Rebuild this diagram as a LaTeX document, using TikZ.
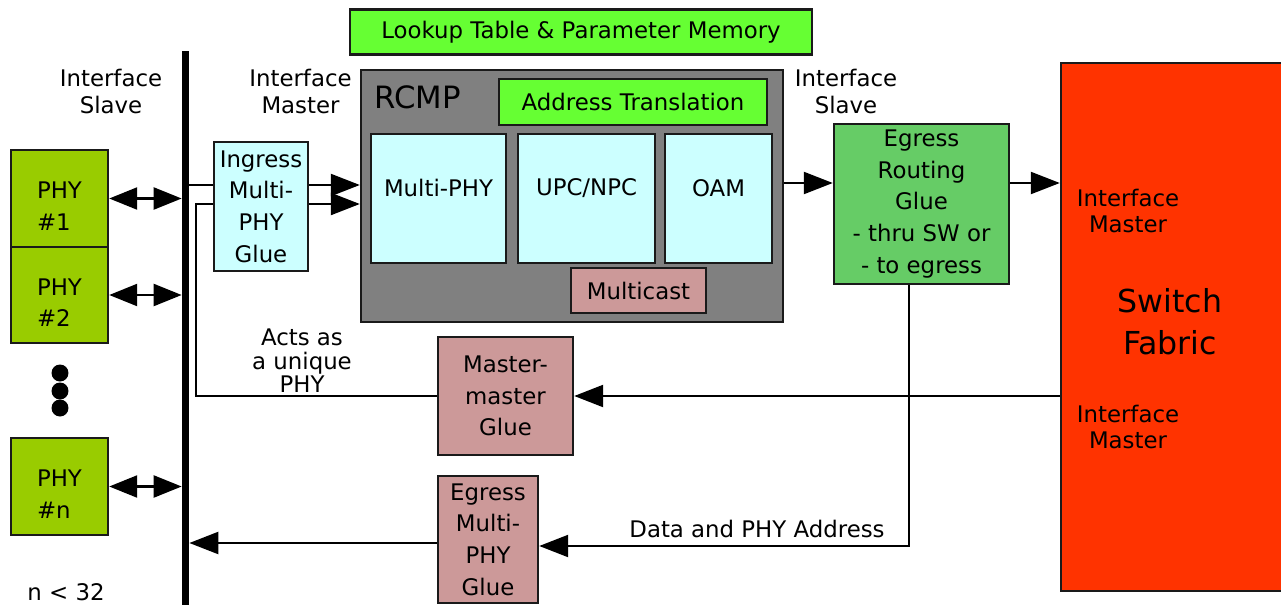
\documentclass[tikz,border=0pt]{standalone}
\usepackage{fontspec}
\setmainfont{DejaVu Sans}
\usepackage{tikz}
\usetikzlibrary{arrows.meta,positioning}
\definecolor{lookupgreen}{HTML}{66FF33}
\definecolor{rcmpgray}{HTML}{808080}
\definecolor{blockcyan}{HTML}{CCFFFF}
\definecolor{gluepink}{HTML}{CC9999}
\definecolor{phygreen}{HTML}{99CC00}
\definecolor{routegreen}{HTML}{66CC66}
\definecolor{fabricred}{HTML}{FF3300}
\definecolor{edgedark}{HTML}{1A1A1A}
\newcommand{\phytext}[1]{\raisebox{-0.3cm}[0pt][0pt]{\begin{tabular}{@{}l@{}}PHY\\\##1\end{tabular}}}
\tikzset{
  blk/.style={draw=edgedark, line width=1.4pt, inner sep=0pt, align=center, font=\fontsize{13}{18}\selectfont},
  tag/.style={align=center, inner sep=0pt, font=\fontsize{13}{15.3}\selectfont},
  wire/.style={line width=1.3pt},
  arr/.style={wire, -{Triangle[length=0.58cm,width=0.44cm]}},
  dblarr/.style={wire, {Triangle[length=0.56cm,width=0.44cm]}-{Triangle[length=0.56cm,width=0.44cm]}},
  dot/.style={circle, fill=black, inner sep=0pt, minimum size=0.34cm}
}

\begin{document}
\begin{tikzpicture}[x=0.02cm, y=-0.02cm]
    \useasboundingbox (0,0) rectangle (1281,605);
    \node[blk, fill=lookupgreen, minimum width=9.24cm, minimum height=0.9cm] (lookup) at (581,32) {Lookup Table \& Parameter Memory};
    \node[blk, fill=rcmpgray, minimum width=8.44cm, minimum height=5.04cm] (rcmp) at (572,196) {};
    \node[anchor=base west, inner sep=0pt, font=\fontsize{17.5}{20}\selectfont] (rcmplbl) at (374,108) {RCMP};
    \node[blk, fill=lookupgreen, minimum width=5.36cm, minimum height=0.92cm] (addr) at (633,102) {Address Translation};
    \node[blk, fill=blockcyan, minimum width=2.7cm, minimum height=2.58cm] (mphy) at (438.5,198.5) {};
    \node[blk, fill=blockcyan, minimum width=2.74cm, minimum height=2.58cm] (upc) at (586.5,198.5) {};
    \node[blk, fill=blockcyan, minimum width=2.14cm, minimum height=2.58cm] (oam) at (718.5,198.5) {};
    \node[tag] (mphylbl) at ([yshift=0.21cm]mphy.center) {Multi-PHY};
    \node[tag] (upclbl) at ([yshift=0.21cm]upc.center) {UPC/NPC};
    \node[tag] (oamlbl) at ([yshift=0.21cm]oam.center) {OAM};
    \node[blk, fill=gluepink, minimum width=2.7cm, minimum height=0.9cm] (mcast) at (638.5,290.5) {Multicast};

    \node[fill=black, inner sep=0pt, minimum width=0.14cm, minimum height=11.08cm] (bus) at (185.5,328) {};
    \node[blk, fill=phygreen, minimum width=1.94cm, minimum height=1.94cm] (phy1) at (59.5,198.5) {\phytext{1}};
    \node[blk, fill=phygreen, minimum width=1.94cm, minimum height=1.92cm] (phy2) at (59.5,295) {\phytext{2}};
    \node[blk, fill=phygreen, minimum width=1.94cm, minimum height=1.94cm] (phyn) at (59.5,486.5) {\phytext{n}};
    \foreach \y [count=\i] in {373,391,408}
        \node[dot] (dot\i) at (60,\y) {};

    \node[blk, fill=blockcyan, minimum width=1.88cm, minimum height=2.58cm] (ingress) at (261,206.5) {Ingress\\Multi-\\PHY\\Glue};
    \node[blk, fill=routegreen, minimum width=3.5cm, minimum height=3.2cm] (egr) at (921.5,204) {Egress\\Routing\\Glue\\- thru SW or\\- to egress};
    \node[blk, fill=fabricred, minimum width=4.68cm, minimum height=10.56cm] (fabric) at (1178,327) {};
    \node[align=center, inner sep=0pt, font=\fontsize{18}{24}\selectfont] (fabriclbl) at (1170,322) {Switch\\Fabric};
    \node[blk, fill=gluepink, minimum width=2.7cm, minimum height=2.36cm] (mm) at (505.5,396) {Master-\\master\\Glue};
    \node[blk, fill=gluepink, minimum width=2.0cm, minimum height=2.54cm] (emg) at (488,539.5) {Egress\\Multi-\\PHY\\Glue};

    \node[tag] (slaveL) at (111,91.5) {Interface\\Slave};
    \node[tag] (masterL) at (300.5,91.5) {Interface\\Master};
    \node[tag] (slaveR) at (846,91.5) {Interface\\Slave};
    \node[tag] (fabmasterA) at (1128,211) {Interface\\Master};
    \node[tag] (fabmasterB) at (1128,427) {Interface\\Master};
    \node[tag, font=\fontsize{13}{13.3}\selectfont] (unique) at (302,361) {Acts as\\a unique\\PHY};
    \node[tag, anchor=base] (addrlbl) at (757,537) {Data and PHY Address};
    \node[tag, anchor=base] (limit) at (66,600) {n < 32};

    \coordinate (rowA) at (0,185);
    \coordinate (rowB) at (0,204);
    \coordinate (rowC) at (0,183);
    \coordinate (tap) at (196,204);
    \coordinate (drop) at (909,546);
    \coordinate (busin) at (0,543);

    \draw[dblarr] (phy1.east) -- (phy1.east -| bus.west);
    \draw[dblarr] (phy2.east) -- (phy2.east -| bus.west);
    \draw[dblarr] (phyn.east) -- (phyn.east -| bus.west);
    \draw[wire] (bus.east |- rowA) -- (ingress.west |- rowA);
    \draw[wire] (mm.west) -| (tap) -- (ingress.west |- tap);
    \draw[arr] (ingress.east |- rowA) -- (rcmp.west |- rowA);
    \draw[arr] (ingress.east |- rowB) -- (rcmp.west |- rowB);
    \draw[arr] (rcmp.east |- rowC) -- (egr.west |- rowC);
    \draw[arr] (egr.east |- rowC) -- (fabric.west |- rowC);
    \draw[arr] (fabric.west |- mm.east) -- (mm.east);
    \draw[arr] (egr.south -| drop) -- (drop) -- (drop -| emg.east);
    \draw[arr] (emg.west |- busin) -- (bus.east |- busin);
\end{tikzpicture}
\end{document}
